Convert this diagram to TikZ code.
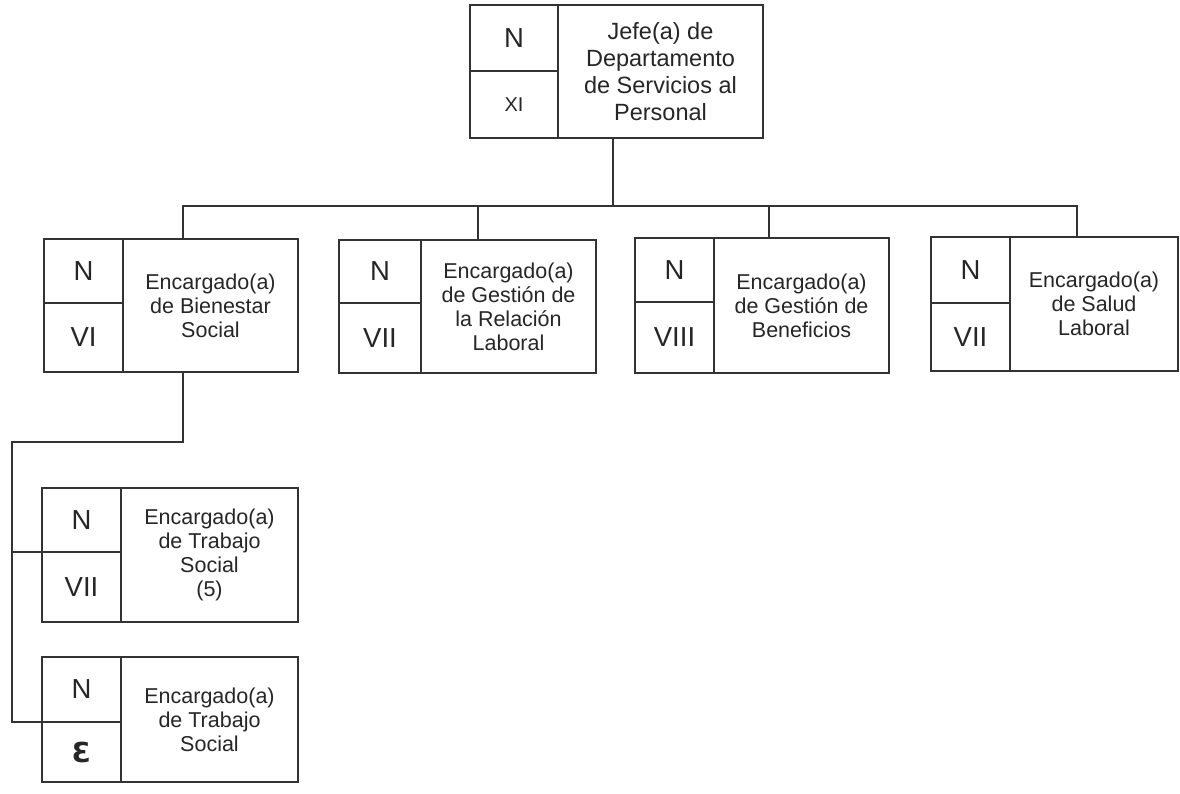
\documentclass[tikz,border=0pt]{standalone}
\usepackage{fontspec}
\setmainfont{Liberation Sans}
\newfontfamily\dejavu{DejaVu Sans}
\tikzset{
  cell/.style={draw=black!80,line width=1.5pt,inner sep=0pt,outer sep=0pt,
    text=black!85,align=center,font=\fontsize{27.5}{30}\selectfont},
  txt/.style={cell,font=\fontsize{21.5}{24}\selectfont},
  vfont/.style={},
  rfont/.style={},
  conn/.style={draw=black!80,line width=1.5pt}}
\newcommand\obox[9]{%
  \node[cell,minimum width={#3pt-#2pt},minimum height={#6pt-#5pt},anchor=north west] (#1n) at (#2,#5) {N};
  \node[cell,vfont,minimum width={#3pt-#2pt},minimum height={#7pt-#6pt},anchor=north west] (#1v) at (#2,#6) {#8};
  \node[txt,rfont,minimum width={#4pt-#3pt},minimum height={#7pt-#5pt},anchor=north west] (#1r) at (#3,#5) {#9};
}
\begin{document}
\begin{tikzpicture}[x=1pt,y=-1pt]
\fill[white] (0,0) rectangle (1180,793);
\useasboundingbox (0,0) rectangle (1180,793);
% top box
\begin{scope}[vfont/.style={font=\fontsize{20}{22}\selectfont},
  rfont/.style={font=\fontsize{23.5}{27}\selectfont}]
\obox{t}{470}{558}{763}{5}{71}{138}{XI}{Jefe(a) de\\Departamento\\de Servicios al\\Personal}
\end{scope}
% second level
\obox{a}{44}{123}{298}{239}{303}{372}{VI}{Encargado(a)\\de Bienestar\\Social}
\obox{b}{339}{421}{596}{240}{303}{373}{VII}{Encargado(a)\\de Gesti\'on de\\la Relaci\'on\\Laboral}
\obox{c}{635}{714}{889}{238}{302}{373}{VIII}{Encargado(a)\\de Gesti\'on de\\Beneficios}
\obox{d}{931}{1010}{1178}{237}{303}{371}{VII}{Encargado(a)\\de Salud\\Laboral}
% third level
\obox{e}{42}{121}{298}{488}{552}{622}{VII}{Encargado(a)\\de Trabajo\\Social\\(5)}
\obox{f}{42}{121}{298}{657}{722}{782}{\dejavu\bfseries Ɛ}{Encargado(a)\\de Trabajo\\Social}
% connectors
\coordinate (js) at (613,206);
\coordinate (j1) at (183,206);
\coordinate (j2) at (478,206);
\coordinate (j3) at (769,206);
\coordinate (j4) at (1077,206);
\draw[conn] (js |- tr.south) -- (js);
\draw[conn] (j1 |- ar.north) -- (j1) -- (j4) -- (j4 |- dr.north);
\draw[conn] (j2) -- (j2 |- br.north);
\draw[conn] (j3) -- (j3 |- cr.north);
\coordinate (k1) at (183,442);
\coordinate (k2) at (12,442);
\draw[conn] (k1 |- ar.south) -- (k1) -- (k2) |- (fv.north west);
\draw[conn] (k2 |- ev.north west) -- (ev.north west);
\end{tikzpicture}
\end{document}
